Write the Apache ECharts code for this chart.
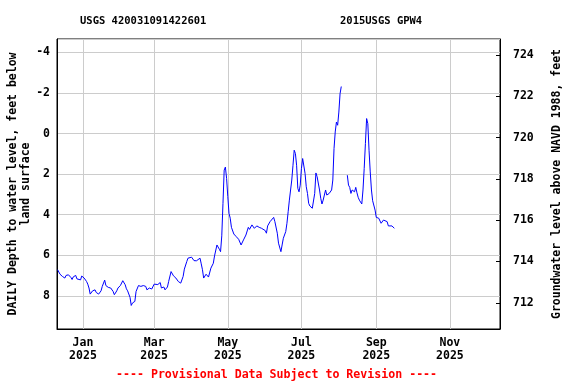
<!DOCTYPE html>
<html>
<head>
<meta charset="utf-8">
<script src="https://cdn.jsdelivr.net/npm/echarts@6/dist/echarts.min.js"></script>
<style>html,body{margin:0;padding:0;background:#fff;}#c{width:576px;height:384px;}</style>
</head>
<body>
<div id="c"></div>
<script>
// Days since 2025-01-01 and depth to water (ft below land surface); null = gap
const dayOffsets = [-21,-19,-18,-17,-15,-14,-12,-10,-9,-8,-6,-5,-4,-2,-1,1,3,4,5,6,8,10,11,13,15,16,18,19,21,23,25,26,28,29,31,33,35,36,37,39,40,41,43,44,46,47,48,50,52,53,55,57,59,62,64,65,67,68,70,71,73,75,77,79,81,83,84,86,87,90,92,94,97,98,99,100,102,104,105,106,108,109,111,112,113,114,115,116,117,118,119,120,121,122,123,125,127,129,131,133,135,137,138,140,142,144,146,148,151,152,153,155,156,158,159,161,162,164,165,166,168,169,170,171,173,174,175,176,177,178,179,180,181,182,183,184,185,186,187,188,190,191,192,193,194,196,197,198,199,200,201,202,204,206,207,208,209,210,211,212,213,214,216,219,220,221,222,223,225,226,227,228,229,231,232,233,234,235,236,237,238,239,240,242,243,245,246,247,249,250,252,253,254,256,257,258];
const depthFt = [6.71,6.93,7.00,7.04,7.12,6.99,6.96,7.09,7.19,7.06,6.99,7.16,7.09,7.21,7.02,7.12,7.29,7.42,7.61,7.91,7.75,7.70,7.83,7.91,7.75,7.53,7.22,7.49,7.58,7.61,7.78,7.94,7.75,7.61,7.49,7.25,7.45,7.65,7.75,8.07,8.47,8.35,8.27,7.78,7.49,7.45,7.53,7.49,7.53,7.70,7.61,7.66,7.42,7.44,7.34,7.61,7.56,7.70,7.56,7.29,6.80,7.01,7.12,7.29,7.37,7.04,6.68,6.31,6.14,6.09,6.26,6.27,6.14,6.42,6.71,7.12,6.93,7.07,7.01,6.63,6.39,6.03,5.49,5.57,5.70,5.82,5.04,3.44,1.80,1.65,2.21,3.11,3.93,4.17,4.62,4.95,5.08,5.21,5.49,5.24,5.00,4.62,4.72,4.50,4.67,4.55,4.62,4.67,4.78,4.91,4.55,4.34,4.29,4.13,4.34,4.91,5.40,5.82,5.49,5.16,4.83,4.42,3.85,3.28,2.29,1.56,0.82,0.98,1.56,2.70,2.87,2.54,1.72,1.23,1.31,1.96,2.62,2.95,3.44,3.57,3.68,3.61,2.95,1.94,2.13,2.78,3.19,3.47,3.28,3.03,2.78,3.03,2.95,2.78,2.29,0.74,-0.08,-0.57,-0.41,-1.06,-1.96,-2.32,null,2.05,2.54,2.65,2.95,2.78,2.87,2.65,2.92,3.14,3.28,3.47,2.78,1.72,0.49,-0.74,-0.49,0.82,1.89,2.78,3.31,3.77,4.13,4.17,4.26,4.42,4.26,4.17,4.34,4.55,4.62,4.55,4.62,4.67];
const tickDates = ['2025-01-01','2025-03-01','2025-05-01','2025-07-01','2025-09-01','2025-11-01'];
const tickLabels = ['Jan\n2025','Mar\n2025','May\n2025','Jul\n2025','Sep\n2025','Nov\n2025'];

const DAY = 86400000;
const base = Date.UTC(2025,0,1);
const toDay = s => { const p = s.split('-').map(Number); return Math.round((Date.UTC(p[0], p[1]-1, p[2]) - base) / DAY); };
const tickDays = tickDates.map(toDay);
const seriesData = dayOffsets.map((d,i) => [d, depthFt[i]]);

const FONT = 'DejaVu Sans Mono';
const chart = echarts.init(document.getElementById('c'), null, {renderer:'canvas'});
chart.setOption({
  animation: false,
  backgroundColor: '#fff',
  title: [
    {text:'USGS 420031091422601', left:80, top:16, padding:0, textStyle:{fontFamily:FONT, fontWeight:'bold', fontSize:10.5, color:'#000'}},
    {text:'2015USGS GPW4', left:340, top:16, padding:0, textStyle:{fontFamily:FONT, fontWeight:'bold', fontSize:10.5, color:'#000'}},
    {text:'---- Provisional Data Subject to Revision ----', left:116, top:369, padding:0, textStyle:{fontFamily:FONT, fontWeight:'bold', fontSize:11.6, color:'#ff0000'}}
  ],
  grid: {left:57, right:76, top:39, bottom:55, show:true, borderColor:'#000', borderWidth:1, backgroundColor:'#fff', outerBoundsMode:'none', containLabel:false},
  xAxis: {
    type:'value',
    min: -21.5,
    max: 345.5,
    axisLine:{show:true, onZero:false, lineStyle:{color:'#000'}},
    axisTick:{show:false, customValues: tickDays},
    splitLine:{show:true, lineStyle:{color:'#cccccc', width:1}},
    axisLabel:{
      customValues: tickDays,
      margin:8,
      fontFamily:FONT, fontWeight:'bold', fontSize:11.5, color:'#000', lineHeight:13,
      formatter: function(v){ const i = tickDays.indexOf(Math.round(+v)); return i >= 0 ? tickLabels[i] : ''; }
    }
  },
  yAxis: [
    {
      type:'value', inverse:true, min:-4.66, max:9.63,
      splitNumber:7, minInterval:2, maxInterval:2,
      position:'left',
      name:'DAILY Depth to water level, feet below\nland surface',
      nameLocation:'middle', nameRotate:90, nameGap:24, nameMoveOverlap:false,
      nameTextStyle:{fontFamily:FONT, fontWeight:'bold', fontSize:11.5, color:'#000', lineHeight:13},
      axisLine:{show:true, onZero:false, lineStyle:{color:'#000'}},
      axisTick:{show:false},
      splitLine:{show:true, lineStyle:{color:'#cccccc', width:1}},
      axisLabel:{showMinLabel:false, showMaxLabel:false, margin:7, fontFamily:FONT, fontWeight:'bold', fontSize:11.5, color:'#000'}
    },
    {
      type:'value', min:710.73, max:724.78,
      splitNumber:7, minInterval:2, maxInterval:2,
      position:'right',
      name:'Groundwater level above NAVD 1988, feet',
      nameLocation:'middle', nameRotate:90, nameGap:51, nameMoveOverlap:false,
      nameTextStyle:{fontFamily:FONT, fontWeight:'bold', fontSize:11.5, color:'#000'},
      axisLine:{show:true, onZero:false, lineStyle:{color:'#000'}},
      axisTick:{show:true, inside:true, length:4, lineStyle:{color:'#000'}},
      splitLine:{show:false},
      axisLabel:{showMinLabel:false, showMaxLabel:false, margin:13, fontFamily:FONT, fontWeight:'bold', fontSize:11.5, color:'#000'}
    }
  ],
  series: [{
    type:'line', yAxisIndex:0, data: seriesData, showSymbol:false, connectNulls:false,
    lineStyle:{color:'#0000ff', width:1}, itemStyle:{color:'#0000ff'}
  }]
});
</script>
</body>
</html>
